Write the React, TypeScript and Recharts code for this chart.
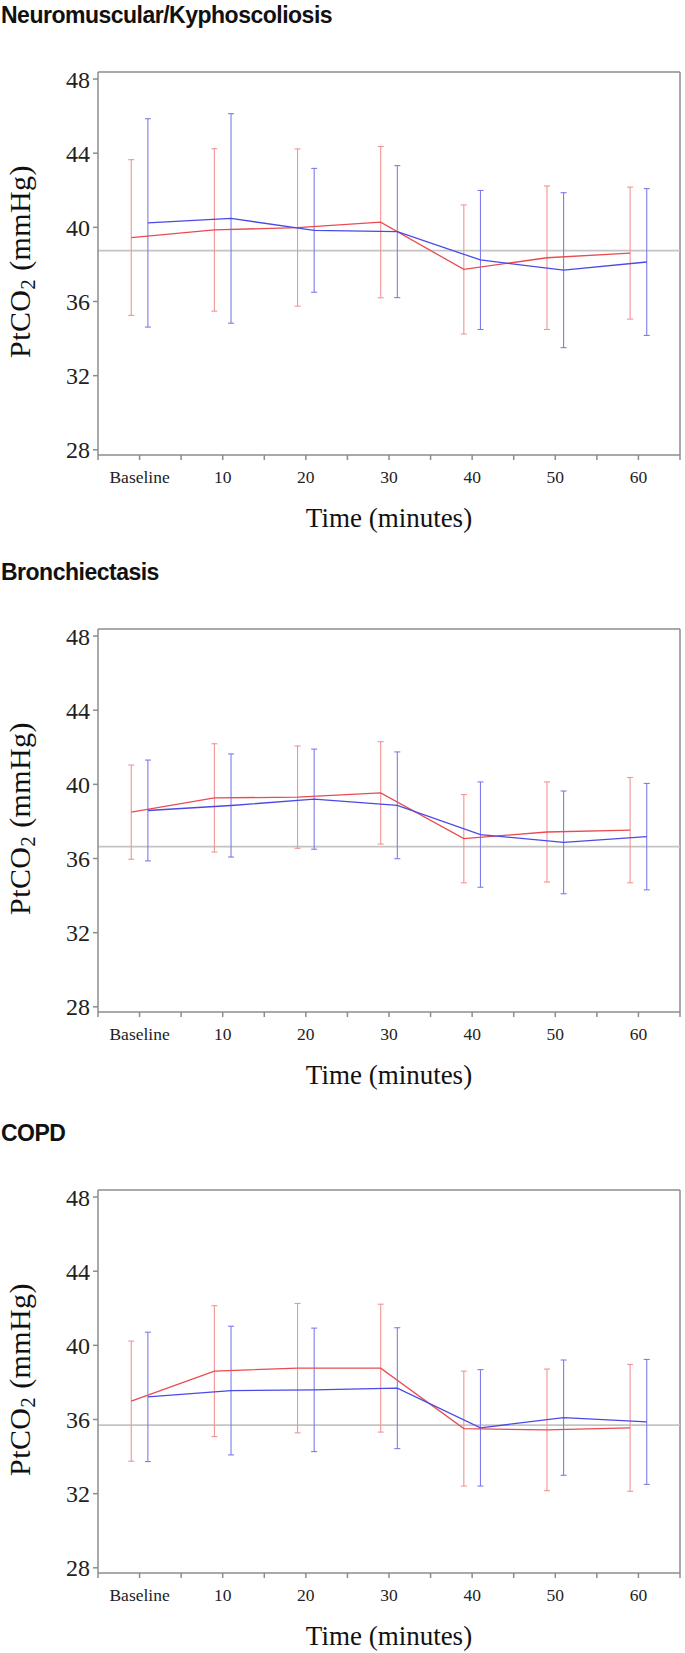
import React from "react";
import {
  ComposedChart,
  Scatter,
  ErrorBar,
  XAxis,
  YAxis,
  ReferenceLine,
  Label,
} from "recharts";

// time points
const categories = ["Baseline", "10", "20", "30", "40", "50", "60"];
const yTicks = [28, 32, 36, 40, 44, 48];
const Y_MIN = 27.72;
const Y_MAX = 48.38;

// Neuromuscular / kyphoscoliosis
const nmRedMean = [39.45, 39.86, 39.99, 40.28, 37.73, 38.36, 38.61];
const nmRedSd = [4.2, 4.38, 4.24, 4.08, 3.48, 3.87, 3.56];
const nmBlueMean = [40.24, 40.48, 39.84, 39.77, 38.24, 37.69, 38.13];
const nmBlueSd = [5.62, 5.65, 3.34, 3.56, 3.75, 4.18, 3.96];
const nmRef = 38.74;

// Bronchiectasis
const brRedMean = [38.5, 39.27, 39.31, 39.54, 37.07, 37.43, 37.53];
const brRedSd = [2.54, 2.92, 2.76, 2.76, 2.38, 2.7, 2.84];
const brBlueMean = [38.59, 38.86, 39.2, 38.87, 37.29, 36.87, 37.18];
const brBlueSd = [2.72, 2.78, 2.7, 2.88, 2.84, 2.77, 2.87];
const brRef = 36.64;

// COPD
const coRedMean = [36.99, 38.61, 38.77, 38.77, 35.51, 35.44, 35.55];
const coRedSd = [3.24, 3.53, 3.49, 3.45, 3.1, 3.28, 3.42];
const coBlueMean = [37.22, 37.56, 37.6, 37.69, 35.55, 36.1, 35.87];
const coBlueSd = [3.49, 3.47, 3.33, 3.26, 3.14, 3.11, 3.37];
const coRef = 35.7;

const RED_LINE = "#e84c50";
const RED_BAR = "#f29494";
const BLUE_LINE = "#4a4ae6";
const BLUE_BAR = "#7c7cec";
const FRAME = "#8c8c8c";
const SERIF = "'Liberation Serif', 'Times New Roman', serif";

const xTicks: number[] = [];
for (let i = 0; i < categories.length; i++) {
  xTicks.push(i - 0.5, i);
}
xTicks.push(categories.length - 0.5);

// red group drawn slightly left of each time point, blue slightly right
const toPoints = (means: number[], sds: number[], dodge: number) =>
  means.map((m, i) => ({ x: i + dodge, y: m, sd: sds[i] }));

const yTitle = (props: any) => {
  const vb = props.viewBox || { y: 72, height: 383 };
  const cx = 30;
  const cy = vb.y + vb.height / 2 - 2;
  return (
    <text
      x={cx}
      y={cy}
      transform={`rotate(-90 ${cx} ${cy})`}
      textAnchor="middle"
      fontFamily={SERIF}
      fontSize={30}
      letterSpacing={0.4}
      fill="#111"
    >
      PtCO<tspan fontSize={21} dy={5}>2</tspan>
      <tspan dy={-5}> (mmHg)</tspan>
    </text>
  );
};

const xTitle = (props: any) => {
  const vb = props.viewBox || { x: 98, y: 455, width: 582 };
  return (
    <text
      x={vb.x + vb.width / 2}
      y={vb.y + 72}
      textAnchor="middle"
      fontFamily={SERIF}
      fontSize={27}
      fill="#111"
    >
      Time (minutes)
    </text>
  );
};

type PanelProps = {
  title: string;
  top: number;
  redMean: number[];
  redSd: number[];
  blueMean: number[];
  blueSd: number[];
  refValue: number;
};

function Panel({ title, top, redMean, redSd, blueMean, blueSd, refValue }: PanelProps) {
  const red = toPoints(redMean, redSd, -0.1);
  const blue = toPoints(blueMean, blueSd, 0.1);

  return (
    <div style={{ position: "absolute", left: 0, top, width: 685, height: 557 }}>
      <ComposedChart
        width={685}
        height={557}
        margin={{ top: 72, right: 5, bottom: 42, left: 0 }}
      >
        <XAxis
          dataKey="x"
          type="number"
          domain={[-0.5, 6.5]}
          ticks={xTicks}
          interval={0}
          allowDataOverflow
          tickFormatter={(v: number) => (Number.isInteger(v) ? categories[v] : "")}
          height={60}
          tickSize={5}
          tickMargin={11}
          stroke={FRAME}
          strokeWidth={1.5}
          tick={{ fontFamily: SERIF, fontSize: 17.5, fill: "#222" }}
        >
          <Label content={xTitle} />
        </XAxis>
        <YAxis
          dataKey="y"
          type="number"
          domain={[Y_MIN, Y_MAX]}
          ticks={yTicks}
          interval={0}
          allowDataOverflow
          width={98}
          tickSize={5}
          tickMargin={3}
          stroke={FRAME}
          strokeWidth={1.5}
          tick={{ fontFamily: SERIF, fontSize: 24, fill: "#222" }}
        >
          <Label content={yTitle} />
        </YAxis>
        {/* closing the frame: top and right edges */}
        <ReferenceLine y={Y_MAX} stroke={FRAME} strokeWidth={1.5} />
        <ReferenceLine x={6.5} stroke={FRAME} strokeWidth={1.5} />
        <ReferenceLine y={refValue} stroke="#c4c4c4" strokeWidth={1.8} />
        <Scatter
          data={red}
          fill={RED_LINE}
          line={{ stroke: RED_LINE, strokeWidth: 1.3 }}
          lineType="joint"
          shape={() => <g />}
          isAnimationActive={false}
        >
          <ErrorBar
            dataKey="sd"
            direction="y"
            width={3}
            stroke={RED_BAR}
            strokeWidth={1.1}
            isAnimationActive={false}
          />
        </Scatter>
        <Scatter
          data={blue}
          fill={BLUE_LINE}
          line={{ stroke: BLUE_LINE, strokeWidth: 1.3 }}
          lineType="joint"
          shape={() => <g />}
          isAnimationActive={false}
        >
          <ErrorBar
            dataKey="sd"
            direction="y"
            width={3}
            stroke={BLUE_BAR}
            strokeWidth={1.1}
            isAnimationActive={false}
          />
        </Scatter>
      </ComposedChart>
      <div
        style={{
          position: "absolute",
          left: 1,
          top: 4,
          fontFamily: "'Liberation Sans', Arial, sans-serif",
          fontWeight: "bold",
          fontSize: 23,
          lineHeight: "23px",
          letterSpacing: -0.5,
          color: "#111",
          whiteSpace: "nowrap",
        }}
      >
        {title}
      </div>
    </div>
  );
}

export default function App() {
  return (
    <div
      style={{
        position: "absolute",
        left: 0,
        top: 0,
        width: 685,
        height: 1653,
        background: "#fff",
        overflow: "hidden",
      }}
    >
      <Panel
        title="Neuromuscular/Kyphoscoliosis"
        top={0}
        redMean={nmRedMean}
        redSd={nmRedSd}
        blueMean={nmBlueMean}
        blueSd={nmBlueSd}
        refValue={nmRef}
      />
      <Panel
        title="Bronchiectasis"
        top={557}
        redMean={brRedMean}
        redSd={brRedSd}
        blueMean={brBlueMean}
        blueSd={brBlueSd}
        refValue={brRef}
      />
      <Panel
        title="COPD"
        top={1118}
        redMean={coRedMean}
        redSd={coRedSd}
        blueMean={coBlueMean}
        blueSd={coBlueSd}
        refValue={coRef}
      />
    </div>
  );
}
